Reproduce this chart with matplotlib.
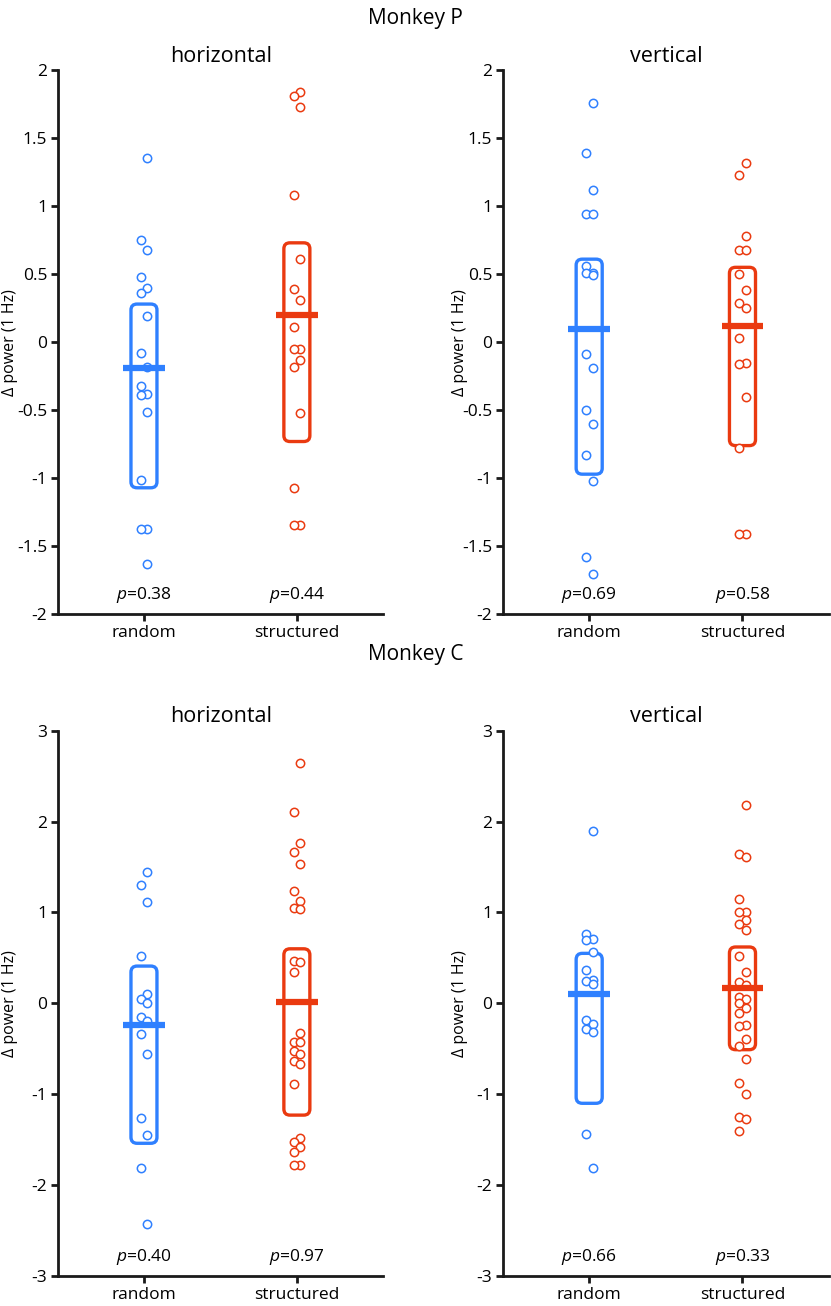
import matplotlib
matplotlib.use('Agg')
import matplotlib.pyplot as plt
from matplotlib.patches import FancyBboxPatch
import numpy as np

plt.rcParams['font.family'] = ['Open Sans', 'DejaVu Sans']
plt.rcParams['axes.unicode_minus'] = False
plt.rcParams['mathtext.fontset'] = 'custom'
plt.rcParams['mathtext.it'] = 'Open Sans:italic'
plt.rcParams['mathtext.rm'] = 'Open Sans'

BLUE = '#2f80ff'
RED = '#ea3a10'

categories = ['random', 'structured']

# Monkey P, horizontal
p_h_random = [1.35, 0.75, 0.68, 0.48, 0.40, 0.36, 0.19, -0.08, -0.18, -0.32,
              -0.38, -0.39, -0.51, -1.01, -1.37, -1.37, -1.63]
p_h_struct = [1.84, 1.81, 1.73, 1.08, 0.61, 0.39, 0.31, 0.11, -0.05, -0.05,
              -0.13, -0.18, -0.52, -1.07, -1.34, -1.34]
p_h_mean = [-0.19, 0.20]
p_h_ci = [(-1.07, 0.28), (-0.73, 0.73)]
p_h_pval = ['0.38', '0.44']

# Monkey P, vertical
p_v_random = [1.76, 1.39, 1.12, 0.94, 0.94, 0.56, 0.51, 0.51, 0.49, -0.09,
              -0.19, -0.50, -0.60, -0.83, -1.02, -1.58, -1.70]
p_v_struct = [1.32, 1.23, 0.78, 0.68, 0.68, 0.50, 0.38, 0.29, 0.25, 0.03,
              -0.15, -0.16, -0.40, -0.78, -1.41, -1.41]
p_v_mean = [0.10, 0.12]
p_v_ci = [(-0.97, 0.61), (-0.76, 0.55)]
p_v_pval = ['0.69', '0.58']

# Monkey C, horizontal
c_h_random = [1.44, 1.30, 1.12, 0.52, 0.10, 0.05, 0.00, -0.15, -0.19, -0.34,
              -0.56, -1.26, -1.45, -1.81, -2.43]
c_h_struct = [2.65, 2.11, 1.76, 1.66, 1.53, 1.24, 1.13, 1.05, 1.04, 0.47,
              0.45, 0.35, -0.33, -0.43, -0.43, -0.53, -0.56, -0.63, -0.67,
              -0.89, -1.48, -1.53, -1.58, -1.64, -1.78, -1.78]
c_h_mean = [-0.24, 0.01]
c_h_ci = [(-1.54, 0.41), (-1.23, 0.60)]
c_h_pval = ['0.40', '0.97']

# Monkey C, vertical
c_v_random = [1.90, 0.76, 0.71, 0.70, 0.56, 0.37, 0.26, 0.25, 0.21, -0.18,
              -0.23, -0.28, -0.31, -1.44, -1.81]
c_v_struct = [2.18, 1.64, 1.61, 1.15, 1.00, 1.00, 0.92, 0.87, 0.81, 0.52,
              0.34, 0.23, 0.20, 0.07, 0.05, 0.00, -0.05, -0.11, -0.24, -0.25,
              -0.39, -0.47, -0.61, -0.88, -1.00, -1.25, -1.27, -1.41]
c_v_mean = [0.10, 0.17]
c_v_ci = [(-1.10, 0.55), (-0.51, 0.62)]
c_v_pval = ['0.66', '0.33']

top_ticks = [-2, -1.5, -1, -0.5, 0, 0.5, 1, 1.5, 2]
top_ticklabels = ['-2', '-1.5', '-1', '-0.5', '0', '0.5', '1', '1.5', '2']
bot_ticks = [-3, -2, -1, 0, 1, 2, 3]
bot_ticklabels = ['-3', '-2', '-1', '0', '1', '2', '3']

fig = plt.figure(figsize=(8.31, 13.06), dpi=100)


def panel(rect, title, groups, means, cis, pvals, ylim, ticks, ticklabels,
          aspect, ylab_x):
    ax = fig.add_axes(rect)
    colors = [BLUE, RED]
    for i, (vals, m, ci, p) in enumerate(zip(groups, means, cis, pvals)):
        xc = i + 1
        c = colors[i]
        # rounded box
        box = FancyBboxPatch((xc - 0.085, ci[0]), 0.17, ci[1] - ci[0],
                             boxstyle='round,pad=0,rounding_size=0.04',
                             mutation_aspect=aspect,
                             fc='none', ec=c, lw=2.4, zorder=2)
        ax.add_patch(box)
        # points, alternating a little left/right
        vals = np.array(vals)
        order = np.argsort(-vals)
        side = np.empty(len(vals))
        side[order] = [0.022 if k % 2 == 0 else -0.022 for k in range(len(vals))]
        ax.plot(xc + side, vals, 'o', ms=6, mfc='white', mec=c, mew=1.1,
                zorder=3)
        # mean bar
        ax.plot([xc - 0.135, xc + 0.135], [m, m], '-', color=c, lw=4.5,
                solid_capstyle='butt', zorder=4)
        ax.text(xc, 0.035, '$p$=' + p, transform=ax.get_xaxis_transform(),
                ha='center', va='center', fontsize=12.5)
    ax.set_xlim(0.44, 2.565)
    ax.set_ylim(*ylim)
    ax.set_xticks([1, 2])
    ax.set_xticklabels(categories, fontsize=12.5)
    ax.set_yticks(ticks)
    ax.set_yticklabels(ticklabels, fontsize=12.5)
    for s in ['top', 'right']:
        ax.spines[s].set_visible(False)
    for s in ['left', 'bottom']:
        ax.spines[s].set_linewidth(2)
        ax.spines[s].set_color('#1a1a1a')
    ax.tick_params(direction='out', length=5, width=2, color='#1a1a1a', pad=3)
    ax.set_title(title, fontsize=15.5, pad=6)
    ax.set_ylabel('\u0394 power (1 Hz)', fontsize=11.5)
    ax.yaxis.set_label_coords(ylab_x, 0.5)
    return ax


panel([0.0702, 0.5296, 0.391, 0.4168], 'horizontal', [p_h_random, p_h_struct],
      p_h_mean, p_h_ci, p_h_pval, (-2, 2), top_ticks, top_ticklabels, 1.1, -0.125)
panel([0.6057, 0.5296, 0.392, 0.4168], 'vertical', [p_v_random, p_v_struct],
      p_v_mean, p_v_ci, p_v_pval, (-2, 2), top_ticks, top_ticklabels, 1.1, -0.108)
panel([0.0702, 0.0230, 0.391, 0.4175], 'horizontal', [c_h_random, c_h_struct],
      c_h_mean, c_h_ci, c_h_pval, (-3, 3), bot_ticks, bot_ticklabels, 1.7, -0.125)
panel([0.6057, 0.0230, 0.392, 0.4175], 'vertical', [c_v_random, c_v_struct],
      c_v_mean, c_v_ci, c_v_pval, (-3, 3), bot_ticks, bot_ticklabels, 1.7, -0.108)

fig.text(0.5, 0.986, 'Monkey P', ha='center', va='center', fontsize=15)
fig.text(0.5, 0.4985, 'Monkey C', ha='center', va='center', fontsize=15)

fig.savefig('out.png', dpi=100)
